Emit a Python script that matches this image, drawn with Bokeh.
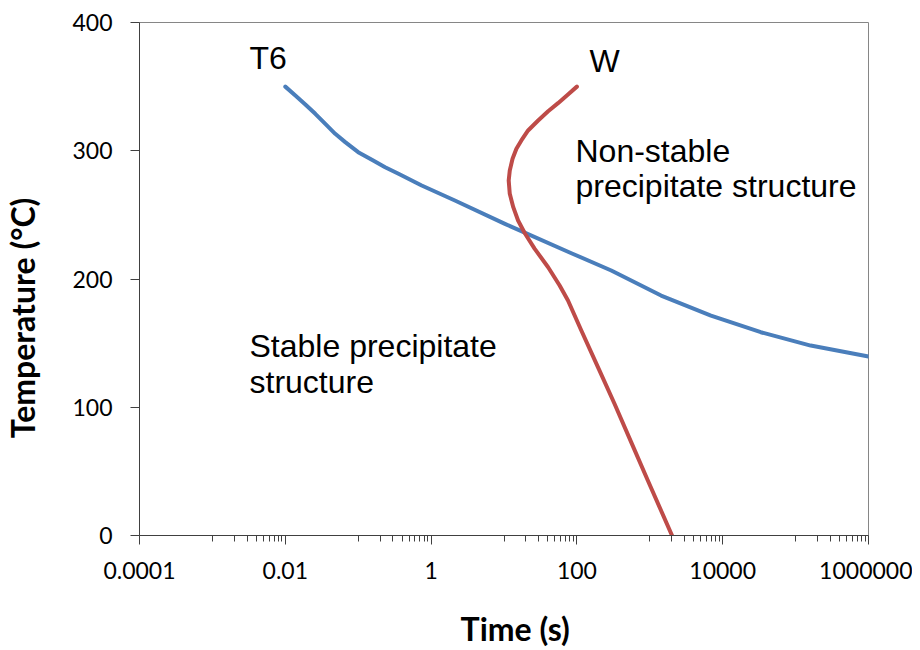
from bokeh.plotting import figure
from bokeh.models import Range1d, FixedTicker, Label
from bokeh.embed import file_html
from bokeh.resources import INLINE

# ---- data ----
t6_time = [0.01, 0.01374, 0.01884, 0.0258, 0.0354, 0.0484, 0.0664, 0.1, 0.154, 0.234, 0.357,
           0.743, 2.12, 10.3, 84, 296, 1428, 6900, 33300, 161000, 1000000]
t6_temp = [350, 343.1, 336.1, 328.8, 321, 313.2, 306.7, 298.9, 292.9, 287.2, 282,
           272.9, 261.2, 243, 220.1, 206.6, 187.1, 171.5, 158.5, 148.1, 139.6]

w_time = [100, 75.5, 55.1, 40.3, 29.4, 21.4, 17.3, 14.8, 13.1, 12.0, 11.6, 12.0, 13.4, 15.6,
          19.3, 26.4, 40.3, 58, 75.5, 115, 200, 328, 555, 940, 2018]
w_temp = [350, 343.9, 337.1, 330.8, 323.6, 315.8, 308, 301.5, 293.7, 284.6, 276.8, 266.4, 256, 245.6,
          235.7, 223.5, 209.2, 194.9, 183.2, 159.8, 129.7, 102.7, 72.8, 42.9, 0]

x_ticks = [0.0001, 0.01, 1, 100, 10000, 1000000]
x_tick_labels = ["0.0001", "0.01", "1", "100", "10000", "1000000"]
x_minor_decades = [0.001, 0.1, 10, 1000, 100000]
y_ticks = [0, 100, 200, 300, 400]

BLUE = "#4A7EBB"
RED = "#BE4B48"
NB = "\u00a0"

p = figure(width=912, height=650, x_axis_type="log",
           x_range=Range1d(1e-4, 1e6), y_range=Range1d(0, 400),
           output_backend="svg", toolbar_location=None,
           min_border_left=137, min_border_right=44,
           min_border_top=22, min_border_bottom=115)

p.background_fill_color = "white"
p.border_fill_color = "white"
p.outline_line_color = "#868686"
p.outline_line_width = 1
p.xgrid.visible = False
p.ygrid.visible = False

p.line(t6_time, t6_temp, line_color=BLUE, line_width=4, line_join="round", line_cap="round")
p.line(w_time, w_temp, line_color=RED, line_width=4, line_join="round", line_cap="round")

minor = [m * d for d in x_minor_decades for m in range(1, 10)]
xa = p.xaxis[0]
xa.ticker = FixedTicker(ticks=x_ticks, minor_ticks=minor)
xa.major_label_overrides = {v: s for v, s in zip(x_ticks, x_tick_labels)}
xa.axis_line_color = "#404040"
xa.major_tick_line_color = "#404040"
xa.minor_tick_line_color = "#404040"
xa.major_tick_in = 0
xa.major_tick_out = 9
xa.minor_tick_in = 0
xa.minor_tick_out = 6
xa.major_label_text_font = "Lato"
xa.major_label_text_font_size = "23px"
xa.major_label_text_color = "black"
xa.major_label_standoff = 17
xa.axis_label = NB * 3 + "Time (s)"
xa.axis_label_text_font = "Lato"
xa.axis_label_text_font_style = "bold"
xa.axis_label_text_font_size = "32px"
xa.axis_label_text_color = "black"
xa.axis_label_standoff = 27

ya = p.yaxis[0]
ya.ticker = FixedTicker(ticks=y_ticks)
ya.axis_line_color = "#404040"
ya.major_tick_line_color = "#404040"
ya.minor_tick_line_color = None
ya.major_tick_in = 0
ya.major_tick_out = 9
ya.major_label_text_font = "Lato"
ya.major_label_text_font_size = "23px"
ya.major_label_text_color = "black"
ya.major_label_standoff = 18
ya.axis_label = "Temperature (°C)" + NB * 10
ya.axis_label_text_font = "Lato"
ya.axis_label_text_font_style = "bold"
ya.axis_label_text_font_size = "32px"
ya.axis_label_text_color = "black"
ya.axis_label_standoff = 27

# annotations (screen offsets from the plot frame's bottom-left)
ann = [("T6", 110, 478), ("W", 450, 475),
       ("Non-stable", 436, 385), ("precipitate structure", 436, 350),
       ("Stable precipitate", 110, 190), ("structure", 110, 154)]
for txt, sx, sy in ann:
    p.add_layout(Label(x=sx, y=sy, x_units="screen", y_units="screen", text=txt,
                       text_font="Liberation Sans", text_font_size="32px",
                       text_align="left", text_baseline="alphabetic", text_color="black"))

open("out.html", "w").write(file_html(p, INLINE))
